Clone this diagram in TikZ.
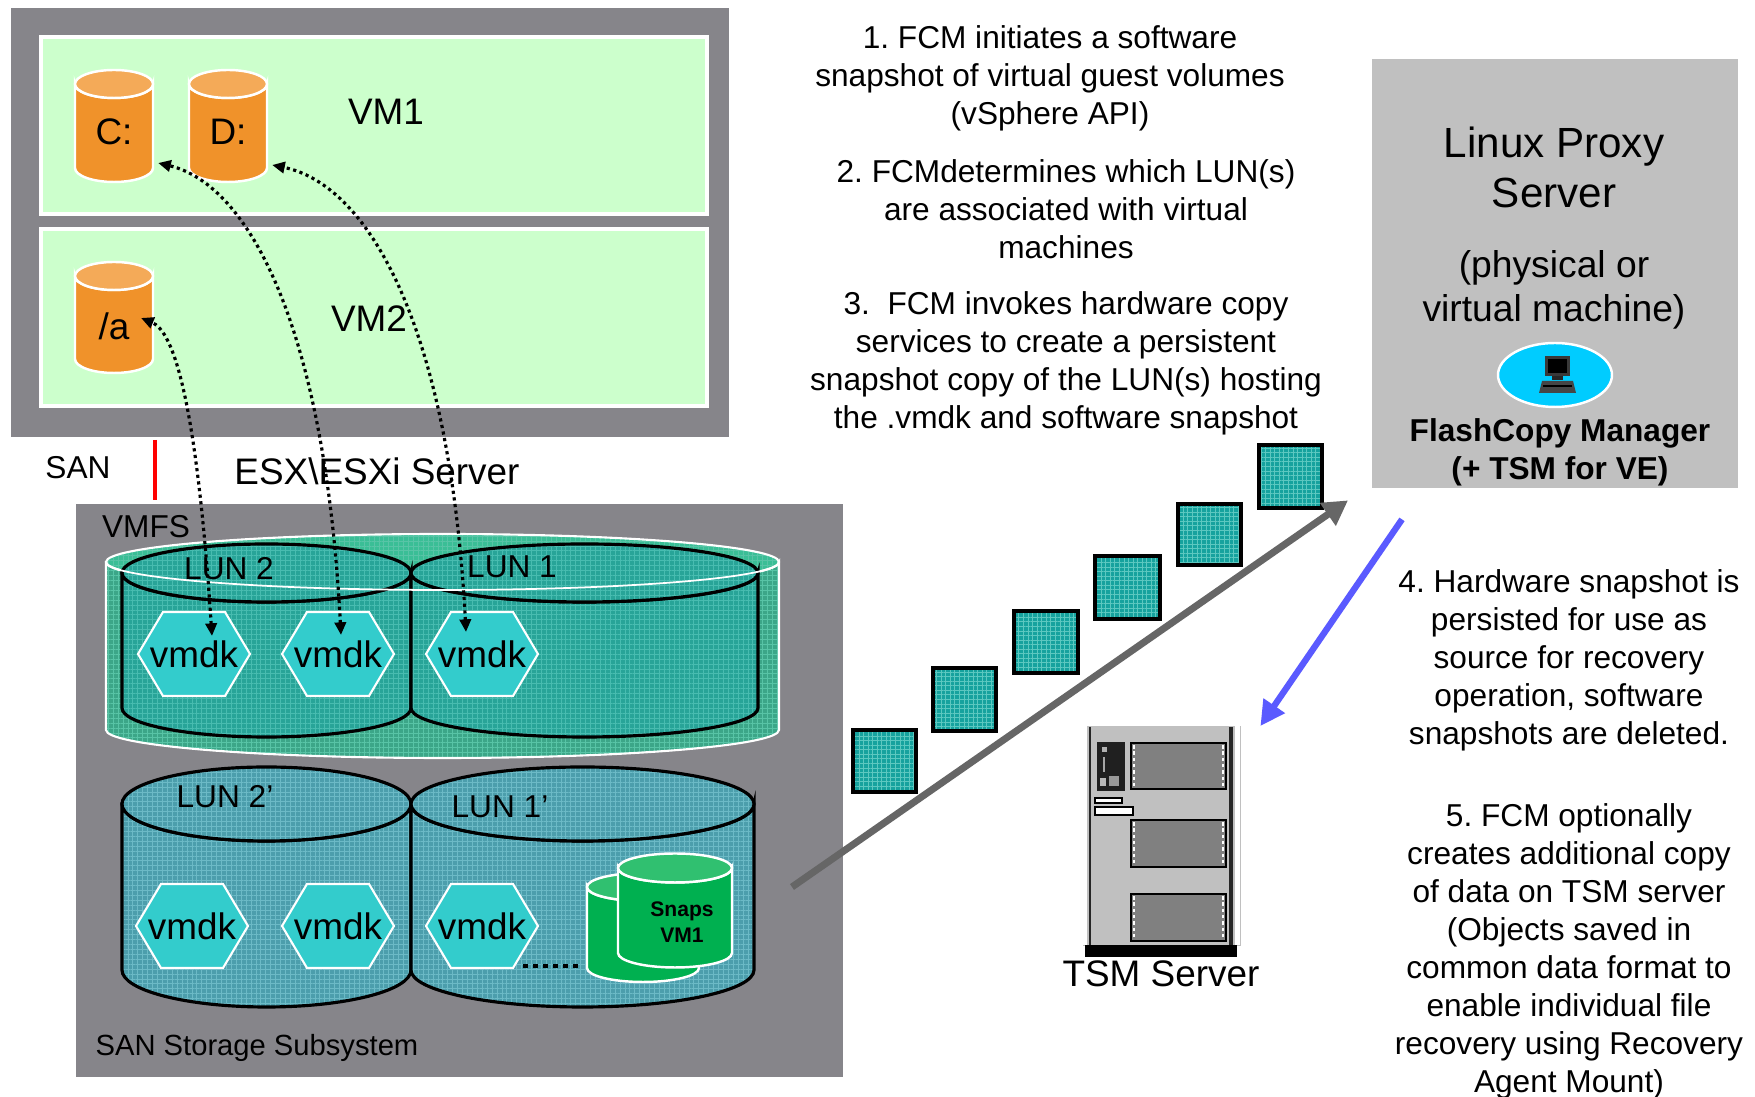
\documentclass[tikz,border=0pt]{standalone}
\usepackage{fontspec}
\setmainfont{Liberation Sans}
\usetikzlibrary{arrows.meta,patterns.meta}
\frenchspacing

\definecolor{boxgray}{RGB}{134,133,138}
\definecolor{vmgreen}{RGB}{204,255,204}
\definecolor{diskorange}{RGB}{240,146,42}
\definecolor{disklidc}{RGB}{244,170,88}
\definecolor{vmfsteal}{RGB}{60,166,136}
\definecolor{vmfslidc}{RGB}{58,190,150}
\definecolor{vmfsgrid}{RGB}{88,196,166}
\definecolor{lunteal}{RGB}{40,164,152}
\definecolor{lungrid}{RGB}{72,188,176}
\definecolor{lunblue}{RGB}{76,158,172}
\definecolor{lunbluegrid}{RGB}{108,186,198}
\definecolor{hexcyan}{RGB}{51,204,204}
\definecolor{snapgreen}{RGB}{0,176,80}
\definecolor{snaplidc}{RGB}{48,192,112}
\definecolor{blockteal}{RGB}{22,162,158}
\definecolor{blockgrid}{RGB}{92,200,192}
\definecolor{proxygray}{RGB}{192,192,192}
\definecolor{fcmcyan}{RGB}{0,204,255}
\definecolor{copygray}{RGB}{102,102,102}
\definecolor{restoreblue}{RGB}{90,90,255}
\definecolor{srvgray}{RGB}{192,192,192}
\definecolor{baygray}{RGB}{128,128,128}

% cylinder: x, top y, bottom y, x radius, y radius, body style, lid style
\newcommand{\drum}[7]{%
  \path[#6] (#1-#4,#2) -- (#1-#4,#3) arc (180:0:#4 and #5) -- (#1+#4,#2) arc (0:180:#4 and #5) -- cycle;
  \path[#7] (#1,#2) ellipse (#4 and #5);
}
% flat hexagon round a centre
\newcommand{\hexa}[3]{%
  \path[#3] (#1-56,#2) -- (#1-31,#2-42) -- (#1+31,#2-42) -- (#1+56,#2) -- (#1+31,#2+42) -- (#1-31,#2+42) -- cycle;
}

\begin{document}
\begin{tikzpicture}[x=0.1mm,y=-0.1mm,
  every node/.style={inner sep=0pt},
  vmbox/.style={fill=vmgreen,draw=white,line width=0.9pt},
  diskbody/.style={fill=diskorange,draw=white,line width=0.7pt},
  disklid/.style={fill=disklidc,draw=white,line width=0.7pt},
  vmfsfill/.style={preaction={fill=vmfsteal},pattern={Hatch[angle=0,distance=1.4pt,line width=0.2pt]},pattern color=vmfsgrid,draw=white,line width=0.6pt},
  vmfslid/.style={preaction={fill=vmfslidc},pattern={Hatch[angle=0,distance=1.4pt,line width=0.2pt]},pattern color=vmfsgrid,draw=white,line width=0.6pt},
  lunup/.style={preaction={fill=lunteal},pattern={Hatch[angle=0,distance=1.4pt,line width=0.2pt]},pattern color=lungrid,draw=black,line width=0.9pt},
  lundown/.style={preaction={fill=lunblue},pattern={Hatch[angle=0,distance=1.4pt,line width=0.2pt]},pattern color=lunbluegrid,draw=black,line width=0.9pt},
  hexfill/.style={fill=hexcyan,draw=white,line width=0.6pt},
  snapbody/.style={fill=snapgreen,draw=white,line width=0.7pt},
  snaplid/.style={fill=snaplidc,draw=white,line width=0.7pt},
  block/.style={preaction={fill=blockteal},pattern={Hatch[angle=0,distance=1.3pt,line width=0.25pt]},pattern color=blockgrid,draw=black,line width=0.9pt},
  bay/.style={fill=baygray,draw=black,line width=0.7pt},
  baydash/.style={white,line width=0.5pt,dash pattern=on 1pt off 0.8pt},
  vmlink/.style={{Triangle[length=3.6pt,width=3.2pt]}-{Triangle[length=3.6pt,width=3.2pt]},line width=0.9pt,dash pattern=on 0.9pt off 1pt},
  copyarrow/.style={-{Triangle[length=7pt,width=7.5pt]},line width=2pt,draw=copygray},
  restorearrow/.style={-{Triangle[length=7pt,width=7pt]},line width=1.8pt,draw=restoreblue},
  labelbig/.style={font=\fontsize{10.5}{12.6}\selectfont},
  labelsmall/.style={font=\fontsize{9}{10.8}\selectfont},
  steptext/.style={font=\fontsize{9}{10.8}\selectfont,align=center,anchor=north}
]
\useasboundingbox (0,0) rectangle (1755,1097);
\fill[white] (0,0) rectangle (1755,1097);
% ESX server with two guests
\fill[boxgray] (11,8) rectangle (729,437);
\draw[vmbox] (41,37) rectangle (707,214);
\draw[vmbox] (41,229) rectangle (707,406);
\node[labelbig] (vmone) at (386,112) {VM1};
\node[labelbig] (vmtwo) at (369,319) {VM2};
% guest disks
\drum{114}{84}{168}{39}{14}{diskbody}{disklid}
\node[labelbig] (diskc) at (114,132) {C:};
\drum{228}{84}{168}{39}{14}{diskbody}{disklid}
\node[labelbig] (diskd) at (228,132) {D:};
\drum{114}{276}{359}{39}{14}{diskbody}{disklid}
\node[labelbig] (diska) at (114,326) {/a};
% SAN link
\node[labelsmall] (san) at (78,468) {SAN};
\draw[red,line width=1.4pt] (155,440) -- (155,500);
\node[labelbig] (esx) at (377,471) {ESX\textbackslash ESXi Server};
% SAN storage subsystem
\fill[boxgray] (76,504) rectangle (843,1077);
\node[labelsmall] (vmfs) at (146,527) {VMFS};
\drum{442.5}{562}{730}{336.5}{28}{vmfsfill}{vmfslid}
% LUN 2, LUN 1
\drum{266.5}{573}{708}{144.5}{29}{lunup}{lunup}
\drum{584.5}{573}{708}{173.5}{29}{lunup}{lunup}
\draw[white,line width=0.5pt] (106,562) arc (180:0:336.5 and 28);
\node[labelsmall] (luntwo) at (229,569) {LUN 2};
\node[labelsmall] (lunone) at (512,567) {LUN 1};
\hexa{194}{654}{hexfill}
\node[labelbig] (vmdka) at (194,654) {vmdk};
\hexa{338}{654}{hexfill}
\node[labelbig] (vmdkb) at (338,654) {vmdk};
\hexa{482}{654}{hexfill}
\node[labelbig] (vmdkc) at (482,654) {vmdk};
% LUN 2', LUN 1'
\drum{266.5}{804}{970}{144.5}{37}{lundown}{lundown}
\drum{582.5}{804}{970}{171.5}{37}{lundown}{lundown}
\node[labelsmall] (luntwocopy) at (225,797) {LUN 2'};
\node[labelsmall] (lunonecopy) at (500,807) {LUN 1'};
\hexa{192}{926}{hexfill}
\node[labelbig] (copya) at (192,926) {vmdk};
\hexa{338}{926}{hexfill}
\node[labelbig] (copyb) at (338,926) {vmdk};
\hexa{482}{926}{hexfill}
\node[labelbig] (copyc) at (482,926) {vmdk};
\draw[line width=1.4pt,dash pattern=on 1.4pt off 1.45pt] (523,966) -- (583,966);
% snapshot disks
\drum{643}{887}{968}{56}{14}{snapbody}{snaplid}
\drum{675}{868}{953}{57}{14.5}{snapbody}{snaplid}
\node[font=\bfseries\fontsize{6}{7.2}\selectfont,align=center] (snaps) at (682,922) {Snaps\\VM1};
\node[font=\fontsize{8.3}{10}\selectfont] (sanstore) at (257,1048) {SAN Storage Subsystem};
% copied blocks
\draw[block] (853,730) rectangle (916,792);
\draw[block] (933,668) rectangle (996,731);
\draw[block] (1014,611) rectangle (1078,673);
\draw[block] (1095,556) rectangle (1160,619);
\draw[block] (1178,504) rectangle (1241,565);
\draw[block] (1259,445) rectangle (1322,508);
% proxy server
\node[fill=proxygray,minimum width=36.6mm,minimum height=42.9mm,anchor=north west] (proxy) at (1371,58) {};
\node[font=\fontsize{12}{14.2}\selectfont,align=center,anchor=north] (proxytitle) at (1554,126) {Linux Proxy\\Server};
\node[font=\fontsize{10.6}{12.5}\selectfont,align=center,anchor=north] (proxykind) at (1554,250) {(physical or\\virtual machine)};
\draw[fill=fcmcyan,draw=white,line width=0.7pt] (1555,375) ellipse (57 and 32);
\fill[gray!45!black] (1545,356) rectangle (1570,376);
\fill[black] (1548,359) rectangle (1567,373);
\fill[gray!30!black] (1552,376) rectangle (1563,380);
\fill[gray!55!black] (1542,381) -- (1573,381) -- (1576,393) -- (1539,393) -- cycle;
\draw[black,line width=0.4pt] (1543,386) -- (1572,386);
\node[font=\bfseries\fontsize{9}{10.8}\selectfont,align=center,anchor=north] (fcm) at (1560,418) {FlashCopy Manager\\(+ TSM for VE)};
% TSM server
\node[fill=srvgray,minimum width=15.8mm,minimum height=22mm,anchor=north west] (tsm) at (1082,725) {};
\fill[white] (1082,725) rectangle (1087,945);
\fill[white] (1235,725) rectangle (1240,945);
\draw[gray!30!black,line width=0.6pt] (1090,727) -- (1090,945);
\draw[gray!30!black,line width=0.9pt] (1231,727) -- (1231,945);
\fill[black] (1085,945) rectangle (1237,957);
\draw[bay] (1131,743) rectangle (1226,789);
\draw[bay] (1131,820) rectangle (1226,867);
\draw[bay] (1131,894) rectangle (1226,941);
\draw[baydash] (1134,745) -- (1134,787);
\draw[baydash] (1223,745) -- (1223,787);
\draw[baydash] (1134,822) -- (1134,865);
\draw[baydash] (1223,822) -- (1223,865);
\draw[baydash] (1134,896) -- (1134,939);
\draw[baydash] (1223,896) -- (1223,939);
\fill[gray!25!black] (1097,742) rectangle (1125,791);
\fill[gray!60] (1102,747) rectangle (1107,752);
\draw[gray!70,line width=0.4pt] (1104,757) -- (1104,772);
\fill[gray!80] (1109,776) rectangle (1119,786);
\fill[gray!55] (1100,778) rectangle (1106,786);
\draw[fill=white,draw=black,line width=0.4pt] (1095,798) rectangle (1122,803);
\draw[fill=white,draw=black,line width=0.4pt] (1095,807) rectangle (1133,815);
\node[labelbig] (tsmlabel) at (1161,974) {TSM Server};
% data flow
\coordinate (copyfrom) at (792,887);
\draw[copyarrow] (copyfrom) -- ([shift={(-23,12)}]proxy.south west);
\draw[restorearrow] ([shift={(31,31)}]proxy.south west) -- ([shift={(19,1)}]tsm.north east);
% steps 1-3
\node[steptext] (stepone) at (1050,25) {1. FCM initiates a software\\snapshot of virtual guest volumes\\(vSphere API)};
\node[steptext] (steptwo) at (1066,159) {2. FCMdetermines which LUN(s)\\are associated with virtual\\machines};
\node[steptext] (stepthree) at (1066,291) {3.\ \ FCM invokes hardware copy\\services to create a persistent\\snapshot copy of the LUN(s) hosting\\the .vmdk and software snapshot};
% steps 4-5
\node[steptext] (stepfour) at (1569,569) {4. Hardware snapshot is\\persisted for use as\\source for recovery\\operation, software\\snapshots are deleted.};
\node[steptext] (stepfive) at (1569,803) {5. FCM optionally\\creates additional copy\\of data on TSM server\\(Objects saved in\\common data format to\\enable individual file\\recovery using Recovery\\Agent Mount)};
% vmdk to guest disk
\draw[vmlink] ([shift={(18,-18)}]vmdka.center) .. controls (195,380) and (170,330) .. ([shift={(11,-8)}]diska.east);
\draw[vmlink] ([shift={(3,-19)}]vmdkb.center) .. controls (325,330) and (250,185) .. ([shift={(25,31)}]diskc.east);
\draw[vmlink] ([shift={(-16,-22)}]vmdkc.center) .. controls (450,330) and (370,185) .. ([shift={(25,33)}]diskd.east);
\end{tikzpicture}
\end{document}
